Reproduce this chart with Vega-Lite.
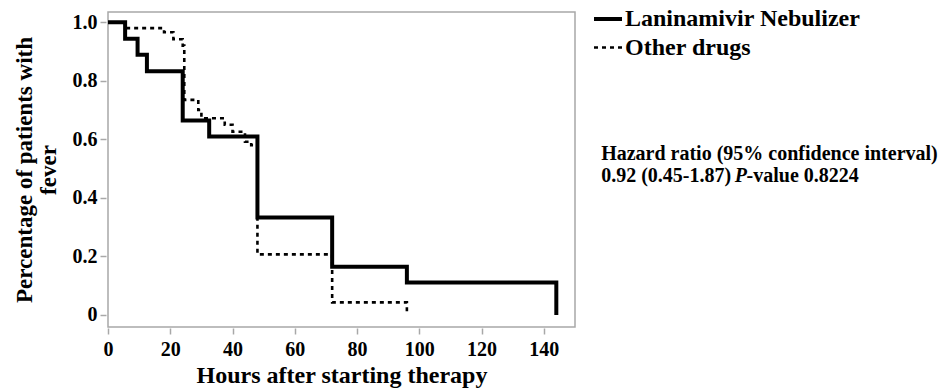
{
  "$schema": "https://vega.github.io/schema/vega-lite/v6.json",
  "width": 467,
  "height": 315,
  "autosize": {"type": "none"},
  "padding": {"left": 108, "top": 12, "right": 377, "bottom": 65},
  "background": "white",
  "config": {
    "view": {"stroke": "#a8a8a8", "strokeWidth": 1.5},
    "font": "Liberation Serif",
    "axis": {
      "labelFont": "Liberation Serif",
      "labelFontWeight": "bold",
      "labelFontSize": 20,
      "labelColor": "black",
      "titleFont": "Liberation Serif",
      "titleFontWeight": "bold",
      "titleColor": "black",
      "domain": false,
      "grid": false,
      "tickColor": "#a8a8a8",
      "tickWidth": 1.5,
      "tickSize": 6
    },
    "legend": {
      "labelFont": "Liberation Serif",
      "labelFontWeight": "bold",
      "labelFontSize": 24,
      "labelColor": "black",
      "labelLimit": 400
    }
  },
  "layer": [
    {
      "data": {
        "values": [
          {"group": "Laninamivir Nebulizer", "hours": 0, "surv": 1.0},
          {"group": "Laninamivir Nebulizer", "hours": 5.5, "surv": 0.944},
          {"group": "Laninamivir Nebulizer", "hours": 9.5, "surv": 0.889},
          {"group": "Laninamivir Nebulizer", "hours": 12.5, "surv": 0.833},
          {"group": "Laninamivir Nebulizer", "hours": 24, "surv": 0.664},
          {"group": "Laninamivir Nebulizer", "hours": 32.5, "surv": 0.61},
          {"group": "Laninamivir Nebulizer", "hours": 48, "surv": 0.333},
          {"group": "Laninamivir Nebulizer", "hours": 72, "surv": 0.165},
          {"group": "Laninamivir Nebulizer", "hours": 96, "surv": 0.111},
          {"group": "Laninamivir Nebulizer", "hours": 144, "surv": 0.0},
          {"group": "Other drugs", "hours": 0, "surv": 1.0},
          {"group": "Other drugs", "hours": 5.5, "surv": 0.98},
          {"group": "Other drugs", "hours": 18, "surv": 0.966},
          {"group": "Other drugs", "hours": 21, "surv": 0.942},
          {"group": "Other drugs", "hours": 24, "surv": 0.92},
          {"group": "Other drugs", "hours": 24.5, "surv": 0.735},
          {"group": "Other drugs", "hours": 29, "surv": 0.7},
          {"group": "Other drugs", "hours": 30, "surv": 0.672},
          {"group": "Other drugs", "hours": 37.5, "surv": 0.65},
          {"group": "Other drugs", "hours": 40, "surv": 0.626},
          {"group": "Other drugs", "hours": 44, "surv": 0.592},
          {"group": "Other drugs", "hours": 46, "surv": 0.58},
          {"group": "Other drugs", "hours": 48, "surv": 0.207},
          {"group": "Other drugs", "hours": 72, "surv": 0.043},
          {"group": "Other drugs", "hours": 96, "surv": 0.0}
        ]
      },
      "mark": {"type": "line", "interpolate": "step-after", "color": "black", "strokeCap": "butt"},
      "encoding": {
        "x": {
          "field": "hours", "type": "quantitative",
          "scale": {"domain": [0, 150], "nice": false, "zero": false},
          "axis": {
            "title": "Hours after starting therapy",
            "titleFontSize": 24,
            "titlePadding": 4,
            "values": [0, 10, 20, 30, 40, 50, 60, 70, 80, 90, 100, 110, 120, 130, 140, 150],
            "labelExpr": "datum.value % 20 == 0 && datum.value <= 140 ? datum.label : ''",
            "offset": 1,
            "labelPadding": 5,
            "labelFlush": false
          }
        },
        "y": {
          "field": "surv", "type": "quantitative",
          "scale": {"domain": [-0.041, 1.035], "nice": false, "zero": false},
          "axis": {
            "title": ["Percentage of patients with", "fever"],
            "titleFontSize": 23,
            "titleLineHeight": 24,
            "titlePadding": 12,
            "values": [0, 0.1, 0.2, 0.3, 0.4, 0.5, 0.6, 0.7, 0.8, 0.9, 1.0],
            "format": ".1f",
            "labelExpr": "datum.value == 0 ? '0' : (round(datum.value * 10) % 2 == 0 ? datum.label : '')",
            "offset": 2,
            "labelPadding": 3,
            "labelFlush": false
          }
        },
        "detail": {"field": "group"},
        "strokeDash": {
          "field": "group", "type": "ordinal",
          "scale": {"domain": ["Laninamivir Nebulizer", "Other drugs"], "range": [[1, 0], [4, 4]]},
          "legend": {
            "title": null,
            "orient": "none",
            "legendX": 484,
            "legendY": -9,
            "symbolSize": 784,
            "symbolType": "stroke",
            "symbolStrokeColor": "black",
            "labelOffset": 1,
            "rowPadding": 1,
            "padding": 0
          }
        },
        "strokeWidth": {
          "field": "group", "type": "ordinal",
          "scale": {"domain": ["Laninamivir Nebulizer", "Other drugs"], "range": [4, 2.6]},
          "legend": null
        }
      }
    },
    {
      "data": {"values": [{"t": "Hazard ratio (95% confidence interval)"}]},
      "mark": {"type": "text", "align": "left", "baseline": "middle", "fontSize": 20, "fontWeight": "bold", "font": "Liberation Serif", "color": "black"},
      "encoding": {"x": {"datum": 158.4}, "y": {"datum": 0.55}, "text": {"field": "t"}}
    },
    {
      "data": {"values": [{"t": "0.92 (0.45-1.87)"}]},
      "mark": {"type": "text", "align": "left", "baseline": "middle", "fontSize": 20, "fontWeight": "bold", "font": "Liberation Serif", "color": "black"},
      "encoding": {"x": {"datum": 158.4}, "y": {"datum": 0.476}, "text": {"field": "t"}}
    },
    {
      "data": {"values": [{"t": "P"}]},
      "mark": {"type": "text", "align": "left", "baseline": "middle", "fontSize": 20, "fontWeight": "bold", "fontStyle": "italic", "font": "Liberation Serif", "color": "black"},
      "encoding": {"x": {"datum": 201.3}, "y": {"datum": 0.476}, "text": {"field": "t"}}
    },
    {
      "data": {"values": [{"t": "-value 0.8224"}]},
      "mark": {"type": "text", "align": "left", "baseline": "middle", "fontSize": 20, "fontWeight": "bold", "font": "Liberation Serif", "color": "black"},
      "encoding": {"x": {"datum": 205.1}, "y": {"datum": 0.476}, "text": {"field": "t"}}
    }
  ]
}
